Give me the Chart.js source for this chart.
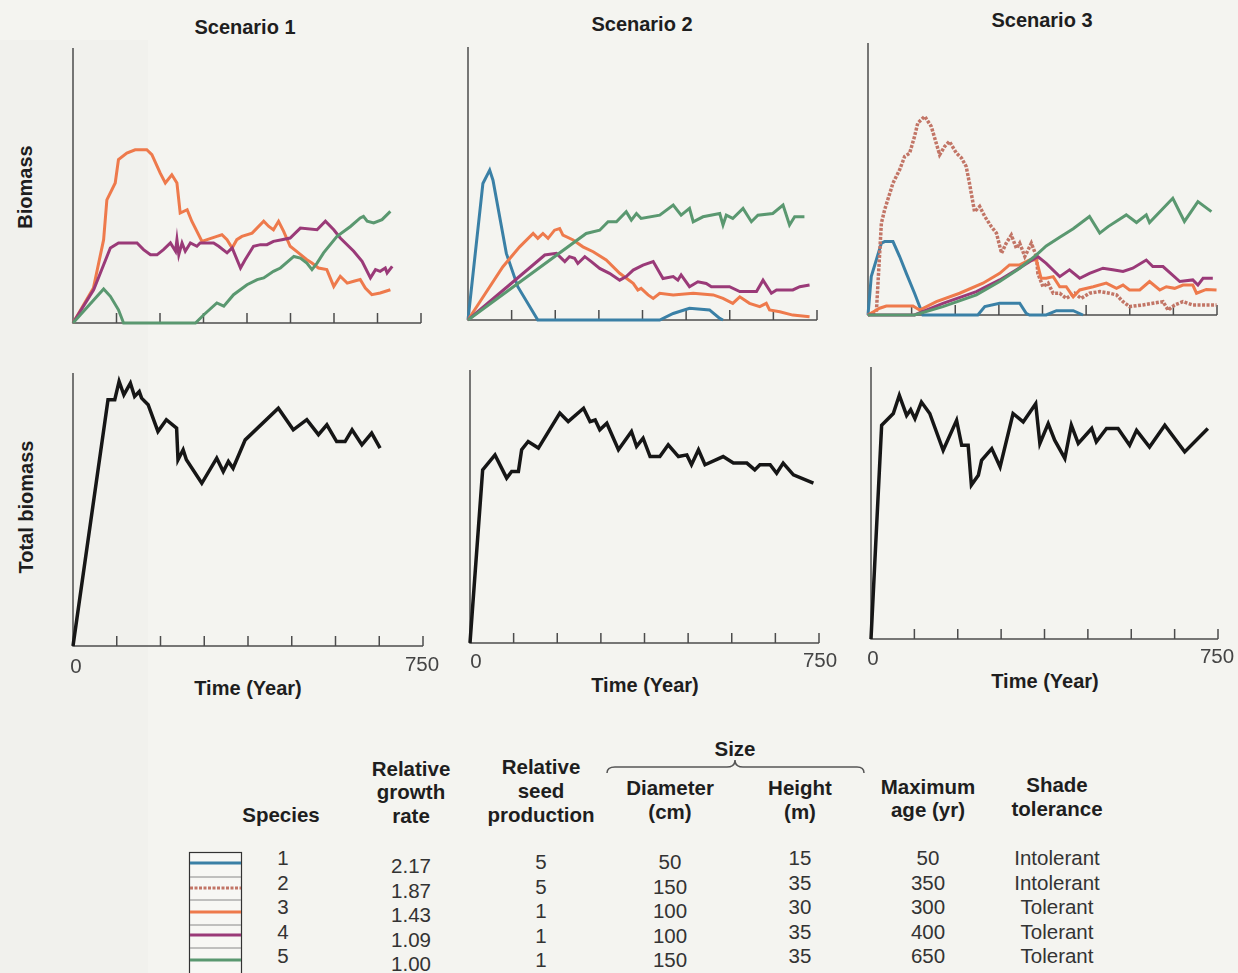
<!DOCTYPE html>
<html><head><meta charset="utf-8">
<script src="https://cdn.jsdelivr.net/npm/chart.js@4.4.1/dist/chart.umd.min.js"></script>
<style>
html,body{margin:0;padding:0;}
body{width:1238px;height:973px;position:relative;overflow:hidden;background:#f4f4f0;font-family:"Liberation Sans",Arial,Helvetica,sans-serif;color:#1e1e1e;}
#strip{position:absolute;left:0;top:40px;width:148px;height:933px;background:#f1f1ed;}
.t{position:absolute;white-space:nowrap;transform:translate(-50%,-50%);line-height:1;}
.b{font-weight:bold;font-size:20px;}
.h{font-weight:bold;font-size:20.5px;}
.n{font-size:20.5px;color:#333;}
.tick{font-size:20.5px;color:#444;}
.rot{transform:translate(-50%,-50%) rotate(-90deg);}
canvas{position:absolute;}
</style>
</head><body>
<div id="strip"></div>
<svg width="1238" height="973" style="position:absolute;left:0;top:0" id="deco"></svg>
<script>
// ---------- DATA ----------
const scenarioTitles = ["Scenario 1", "Scenario 2", "Scenario 3"];
const xAxisTitle = "Time (Year)";
const xTickLabels = ["0", "750"];
const tickYears = [93.75, 187.5, 281.25, 375, 468.75, 562.5, 656.25, 750];

// Scenario 1 – species biomass ([year, relative biomass %])
const sc1Species3 = [[0,0],[44,12.7],[66,30.3],[73,44.8],[91,50.9],[98,59.4],[116,61.8],[134,63],[159,63],[170,61.2],[188,54.5],[199,50.9],[213,53.9],[224,50.9],[231,40],[246,41.2],[256,37],[278,29.7],[289,30.3],[310,31.5],[321,32.1],[332,30.3],[343,27.3],[353,30.3],[364,31.5],[386,32.7],[411,37],[422,35.1],[432,33.9],[443,37],[454,33.3],[468,27.9],[486,25.5],[504,23],[515,21.8],[529,20],[547,19.4],[562,13.3],[576,17],[591,14.5],[605,15.2],[619,15.8],[630,12.7],[644,10.3],[662,10.9],[684,12.1]];
const sc1Species4 = [[0,0],[44.5,12.1],[59,18.2],[80.5,27.3],[98,29.1],[138,29.1],[152,26.7],[167,24.8],[181,24.8],[195,26.7],[210,29.1],[221,26.1],[224,30.3],[228,24.8],[235,29.1],[242,26.1],[253,29.1],[267,27.9],[274,29.1],[303,29.1],[314,27.9],[332,25.5],[343,27.3],[361,20],[371,23],[389,27.9],[404,28.5],[418,28.5],[432,29.7],[450,30.3],[468,30.9],[490,34.5],[526,33.9],[544,37],[562,33.9],[576,30.9],[605,26.1],[623,22.4],[641,16.4],[652,19.4],[662,18.8],[673,20],[677,18.2],[688,20.6]];
const sc1Species5 = [[0,0],[66,12.4],[80.5,9.7],[98,4.8],[109,0],[264,0],[282,3],[310,7.3],[325,6.1],[346,10.3],[375,13.9],[397,15.8],[411,16.4],[432,18.8],[447,20],[476,24.2],[490,23.6],[504,21.8],[515,19.4],[526,21.8],[540,25.5],[569,31.5],[598,35.1],[619,38.2],[626,38.8],[634,37],[648,36.4],[666,37.6],[684,40.6]];

// Scenario 2
const sc2Species1 = [[0,0],[32,50],[46.6,54.9],[53.7,51.2],[82.4,24.4],[107,12.2],[150,0],[412,0],[441,2.4],[476,4.3],[519,3.7],[541,0.6],[548,0]];
const sc2Species3 = [[0,0],[75,19.5],[111,26.8],[140,31.7],[150,29.9],[161,31.7],[172,29.9],[186,32.9],[197,33.5],[204,31.1],[226,29.3],[247,26.8],[269,25],[297,22],[326,17.1],[355,13.4],[365,11],[372,11.6],[387,9.2],[398,7.9],[412,9.8],[441,9.2],[484,9.8],[527,9.2],[548,7.9],[569,6.1],[584,8.5],[605,6.1],[627,4.9],[641,6.1],[648,3.7],[670,3],[698,1.8],[734,1.2]];
const sc2Species4 = [[0,0],[165,23.8],[190,24.4],[208,21.4],[218,23.2],[229,22.6],[236,20.7],[251,23.2],[265,21.4],[283,18.9],[304,17.1],[326,14.6],[340,15.9],[355,18.3],[376,20.1],[398,21.4],[419,15.2],[441,15.9],[451,14.6],[458,16.5],[476,12.2],[494,14],[512,13.4],[523,12.2],[562,12.2],[584,10.4],[620,10.4],[634,14.6],[652,9.8],[663,11],[698,11],[713,12.2],[734,12.8]];
const sc2Species5 = [[0,0],[254,31.7],[283,32.9],[301,36],[319,36],[340,39.7],[351,36.6],[362,39],[372,37.2],[412,38.4],[441,42.1],[458,38.4],[476,40.9],[484,36],[505,37.8],[541,39],[548,34.8],[555,38.4],[569,37.2],[591,40.9],[609,36],[623,38.4],[655,39],[677,42.1],[691,34.8],[702,37.8],[723,37.8]];

// Scenario 3
const sc3Species1 = [[0,0],[7,14.1],[28.7,26.4],[35.8,27],[53.7,27],[68,21.5],[82.4,15.3],[100,8],[111,3.1],[118,0],[236,0],[251,3.1],[283,4.3],[326,4.3],[340,0.6],[347,0],[383,0],[405,1.6],[441,1.6],[462,0]];
const sc3Species2 = [[0,0],[18,1.2],[28.7,33.7],[35.8,38.7],[53.7,48.5],[68,53.4],[78.8,58.3],[89.5,59.5],[100,65.6],[107,70.6],[122,73],[136,69.3],[154,58.9],[165,62],[175,63.8],[190,59.5],[201,57.7],[211,54.6],[218,48.5],[229,38],[240,39.9],[251,36.2],[265,32.5],[276,30.1],[287,22.7],[297,26.4],[308,29.4],[319,24.5],[326,26.4],[337,21.5],[344,23.9],[351,26.4],[362,21.5],[365,15.3],[376,10.4],[387,11.7],[398,8],[412,8],[426,6.1],[444,8],[458,6.1],[476,8],[498,8.6],[519,8],[534,7.4],[548,4.9],[562,3.1],[591,3.7],[612,4.3],[634,4.9],[645,1.8],[659,3.7],[677,4.9],[698,3.7],[727,3.7],[749,3.7]];
const sc3Species3 = [[0,0],[25,2.5],[39.4,3.3],[96.7,3.3],[111,1.8],[147,4.9],[197,8],[247,11.7],[283,15.3],[304,18.4],[326,18.4],[347,20.2],[362,20.2],[372,13.5],[383,13.5],[398,14.1],[412,10.4],[426,10.4],[441,6.7],[455,9.2],[484,10.4],[512,11.7],[534,9.8],[548,11],[562,9.2],[584,9.2],[605,12.3],[627,9.2],[641,10.4],[659,9.8],[677,11],[698,11],[706,8],[727,9.4],[749,9.2]];
const sc3Species4 = [[0,0],[100,0],[161,4.3],[233,8.6],[283,12.9],[319,16.6],[347,19.6],[365,21.5],[383,19],[412,14.1],[433,16.6],[455,13.5],[476,15.3],[505,17.2],[526,16.6],[548,16],[569,17.2],[598,20.2],[612,17.8],[634,17.8],[670,12.3],[698,12.9],[709,11],[720,13.5],[741,13.5]];
const sc3Species5 = [[0,0],[100,0],[161,3.1],[233,7.4],[283,12.3],[326,17.2],[362,22.1],[383,25.4],[412,28.6],[441,31.7],[476,36.2],[498,30.1],[516,32.5],[555,36.8],[577,34],[598,36.8],[605,34],[655,42.9],[680,34.4],[709,41.7],[738,38]];

// Total biomass
const sc1Total = [[0,0],[75,90.2],[89.5,90.2],[98.8,96.9],[109,92],[123,96.3],[132,91.4],[142,93.2],[147,90.8],[161,88.4],[182,78.6],[200,82.9],[222,79.8],[225,68.2],[236,71.9],[243,68.2],[276,59.6],[308,68.8],[322,63.9],[333,67.6],[343,65.1],[369,75.5],[440,87.1],[472,79.2],[501,82.9],[526,77.4],[544,81],[565,74.9],[583,74.9],[598,79.2],[619,73.7],[640,78],[658,72.5]];
const sc2Total = [[0,0],[27.2,63.4],[53.7,68.9],[78.8,60.4],[89.5,62.8],[104,62.8],[111,70.8],[125,73.8],[147,71.4],[193,84.2],[211,81.1],[244,86],[258,81.1],[269,81.7],[279,78.1],[294,80.5],[319,70.8],[347,77.5],[358,72],[372,75],[387,68.3],[408,68.3],[426,72.6],[448,68.3],[466,68.9],[476,65.3],[491,70.8],[505,65.3],[544,68.3],[566,65.9],[595,65.9],[612,63.4],[623,65.3],[645,65.3],[659,62.2],[673,65.9],[695,61.6],[738,58.6]];
const sc3Total = [[0,0],[23,78.6],[48.2,82.9],[61.2,89.6],[77,82.2],[85.7,84.3],[95,81],[109,87.1],[127,82.9],[156,69.4],[185,80.4],[196,71.2],[210,71.2],[217,56.6],[232,60.2],[239,65.7],[261,70],[279,63.3],[307,82.9],[329,79.8],[356,86.5],[365,71.9],[383,79.2],[397,73.1],[419,66.4],[433,78.6],[448,71.9],[477,77.4],[487,72.5],[509,77.4],[534,77.4],[559,71.2],[574,76.7],[602,70.6],[635,78.6],[678,68.8],[728,77.4]];

// Species table
const speciesIds = ["1", "2", "3", "4", "5"];
const growthRates = ["2.17", "1.87", "1.43", "1.09", "1.00"];
const seedProduction = ["5", "5", "1", "1", "1"];
const diameters = ["50", "150", "100", "100", "150"];
const heights = ["15", "35", "30", "35", "35"];
const maxAges = ["50", "350", "300", "400", "650"];
const shadeTolerance = ["Intolerant", "Intolerant", "Tolerant", "Tolerant", "Tolerant"];

// ---------- STYLE ----------
const speciesStyle = {
  1: {color: "#3a80a6", dash: []},
  2: {color: "#c27566", dash: [3, 1.5]},
  3: {color: "#ee7a4c", dash: []},
  4: {color: "#9a3a78", dash: []},
  5: {color: "#5a9870", dash: []}
};

const axesPlugin = {
  id: "axesDraw",
  beforeDatasetsDraw(chart) {
    const {ctx, chartArea: a, scales: {x}} = chart;
    ctx.save();
    ctx.strokeStyle = "#4c4c4c";
    ctx.lineWidth = 1.5;
    ctx.beginPath();
    ctx.moveTo(a.left, a.top);
    ctx.lineTo(a.left, a.bottom);
    ctx.lineTo(a.right, a.bottom);
    tickYears.forEach(v => {
      const px = x.getPixelForValue(v);
      ctx.moveTo(px, a.bottom);
      ctx.lineTo(px, a.bottom - 10);
    });
    ctx.stroke();
    ctx.restore();
  }
};

const P = 8;
function makeChart(box, series) {
  const c = document.createElement("canvas");
  const w = box.r - box.l + 2 * P, h = box.b - box.t + 2 * P;
  c.width = w; c.height = h;
  c.style.left = (box.l - P) + "px"; c.style.top = (box.t - P) + "px";
  c.style.width = w + "px"; c.style.height = h + "px";
  document.body.appendChild(c);
  new Chart(c, {
    type: "line",
    data: {
      datasets: series.map(s => ({
        data: s.data.map(p => ({x: p[0], y: p[1]})),
        borderColor: s.color,
        borderWidth: s.width,
        borderDash: s.dash,
        pointRadius: 0,
        tension: 0,
        fill: false,
        clip: false
      }))
    },
    options: {
      responsive: false,
      animation: false,
      devicePixelRatio: 1,
      layout: {padding: P},
      plugins: {legend: {display: false}, tooltip: {enabled: false}},
      scales: {
        x: {type: "linear", min: 0, max: 750, display: false},
        y: {min: 0, max: 100, display: false}
      }
    },
    plugins: [axesPlugin]
  });
}
function sp(id, data) { return {data, color: speciesStyle[id].color, dash: speciesStyle[id].dash, width: id === 2 ? 3.5 : 3}; }
function tot(data) { return {data, color: "#161616", dash: [], width: 3.5}; }

makeChart({l: 73, t: 48, r: 421, b: 323}, [sp(5, sc1Species5), sp(4, sc1Species4), sp(3, sc1Species3)]);
makeChart({l: 468, t: 47, r: 817, b: 320}, [sp(5, sc2Species5), sp(4, sc2Species4), sp(3, sc2Species3), sp(1, sc2Species1)]);
makeChart({l: 868, t: 43, r: 1217, b: 315}, [sp(5, sc3Species5), sp(4, sc3Species4), sp(3, sc3Species3), sp(2, sc3Species2), sp(1, sc3Species1)]);
makeChart({l: 73, t: 373, r: 423, b: 646}, [tot(sc1Total)]);
makeChart({l: 470, t: 370, r: 819, b: 643}, [tot(sc2Total)]);
makeChart({l: 871, t: 367, r: 1218, b: 639}, [tot(sc3Total)]);

// ---------- TEXT ----------
function txt(s, x, y, cls) {
  const d = document.createElement("div");
  d.className = "t " + cls;
  d.textContent = s;
  d.style.left = x + "px"; d.style.top = y + "px";
  document.body.appendChild(d);
}
txt(scenarioTitles[0], 245, 27, "b");
txt(scenarioTitles[1], 642, 24, "b");
txt(scenarioTitles[2], 1042, 20, "b");
txt("Biomass", 25, 187, "b rot");
txt("Total biomass", 26, 507, "b rot");
[[248, 688], [645, 685], [1045, 681]].forEach(p => txt(xAxisTitle, p[0], p[1], "b"));
[[76, 666, 422, 664], [476, 661, 820, 660], [873, 658, 1217, 656]].forEach(p => {
  txt(xTickLabels[0], p[0], p[1], "tick");
  txt(xTickLabels[1], p[2], p[3], "tick");
});

// table headers
txt("Species", 281, 815, "h");
txt("Relative", 411, 769, "h"); txt("growth", 411, 792, "h"); txt("rate", 411, 816, "h");
txt("Relative", 541, 767, "h"); txt("seed", 541, 791, "h"); txt("production", 541, 815, "h");
txt("Size", 735, 749, "h");
txt("Diameter", 670, 788, "h"); txt("(cm)", 670, 812, "h");
txt("Height", 800, 788, "h"); txt("(m)", 800, 812, "h");
txt("Maximum", 928, 787, "h"); txt("age (yr)", 928, 810, "h");
txt("Shade", 1057, 785, "h"); txt("tolerance", 1057, 809, "h");

const cols = [
  [speciesIds, 283, 858], [growthRates, 411, 866], [seedProduction, 541, 862],
  [diameters, 670, 862], [heights, 800, 858], [maxAges, 928, 858], [shadeTolerance, 1057, 858]
];
cols.forEach(([arr, x, y0]) => arr.forEach((v, i) => txt(v, x, y0 + i * 24.5, "n")));

// brace + swatches
const svg = document.getElementById("deco");
let s = '<path d="M607,773 Q607,767 615,767 L727,767 Q735,767 735,760 Q735,767 743,767 L857,767 Q864,767 864,773" fill="none" stroke="#555" stroke-width="1.5"/>';
s += '<rect x="189.5" y="852.5" width="52" height="130" fill="#f7f7f4" stroke="#333" stroke-width="1.2"/>';
[877, 900, 925, 948].forEach(y => s += `<line x1="190" x2="241" y1="${y}" y2="${y}" stroke="#888" stroke-width="1"/>`);
[863, 888, 912, 935, 960].forEach((y, i) => {
  const st = speciesStyle[i + 1];
  s += `<line x1="190" x2="241" y1="${y}" y2="${y}" stroke="${st.color}" stroke-width="3" ${st.dash.length ? 'stroke-dasharray="3,1.5"' : ''}/>`;
});
svg.innerHTML = s;
</script>
</body></html>
